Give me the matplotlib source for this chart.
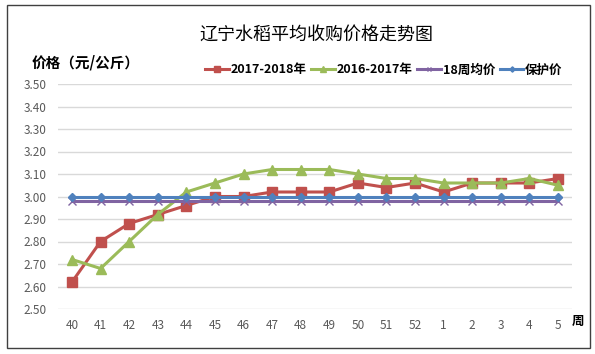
import matplotlib.pyplot as plt
from matplotlib.patches import Rectangle

plt.rcParams['font.family'] = ['Noto Sans CJK SC', 'DejaVu Sans']

# 数据
weeks = ['40', '41', '42', '43', '44', '45', '46', '47', '48', '49',
         '50', '51', '52', '1', '2', '3', '4', '5']
price_1718 = [2.62, 2.80, 2.88, 2.92, 2.96, 3.00, 3.00, 3.02, 3.02, 3.02,
              3.06, 3.04, 3.06, 3.02, 3.06, 3.06, 3.06, 3.08]
price_1617 = [2.72, 2.68, 2.80, 2.92, 3.02, 3.06, 3.10, 3.12, 3.12, 3.12,
              3.10, 3.08, 3.08, 3.06, 3.06, 3.06, 3.08, 3.05]
avg_18 = [2.98] * 18
protect = [3.00] * 18
yticks = [2.50, 2.60, 2.70, 2.80, 2.90, 3.00, 3.10, 3.20, 3.30, 3.40, 3.50]

W, H = 595, 354
fig = plt.figure(figsize=(W / 100, H / 100), dpi=100)
ax = fig.add_axes([57.7 / W, 1 - 309 / H, (572.3 - 57.7) / W, (309 - 84) / H])

x = list(range(len(weeks)))
ax.plot(x, price_1718, color='#C0504D', lw=2.2, marker='s', ms=6.5,
        label='2017-2018年', zorder=3)
ax.plot(x, price_1617, color='#9BBB59', lw=2.2, marker='^', ms=7,
        label='2016-2017年', zorder=4)
ax.plot(x, avg_18, color='#8064A2', lw=2.2, marker='x', ms=6, mew=1,
        label='18周均价', zorder=5)
ax.plot(x, protect, color='#4F81BD', lw=2.2, marker='D', ms=4.5,
        label='保护价', zorder=6)

ax.set_xlim(-0.5, len(weeks) - 0.5)
ax.set_ylim(2.5, 3.5)
ax.set_xticks(x)
ax.set_xticklabels(weeks)
ax.set_yticks(yticks)
ax.set_yticklabels(['%.2f' % v for v in yticks])
ax.tick_params(length=0, labelsize=8.5, colors='#595959', pad=7)
ax.tick_params(axis='y', pad=8)
ax.grid(axis='y', color='#D9D9D9', lw=1)
ax.set_axisbelow(True)
for s in ax.spines.values():
    s.set_visible(False)

fig.text(316 / W, 1 - 35 / H, '辽宁水稻平均收购价格走势图', ha='center', va='center',
         fontsize=13)
fig.text(32 / W, 1 - 63 / H, '价格（元/公斤）', ha='left', va='center',
         fontsize=10.5, fontweight='bold')
fig.text(578 / W, 1 - 321 / H, '周', ha='center', va='center',
         fontsize=9, fontweight='bold')

leg = fig.legend(loc='center right', bbox_to_anchor=(574 / W, 1 - 70 / H),
                 ncol=4, frameon=False, handlelength=1.9, handletextpad=0.15,
                 columnspacing=0.35, markerscale=0.6,
                 prop={'size': 9, 'weight': 'bold'})

fig.patches.append(Rectangle((7 / W, 1 - 348 / H), 583 / W, 343 / H,
                             transform=fig.transFigure, fill=False,
                             edgecolor='#404040', lw=1))

fig.savefig('out.png', dpi=100)
